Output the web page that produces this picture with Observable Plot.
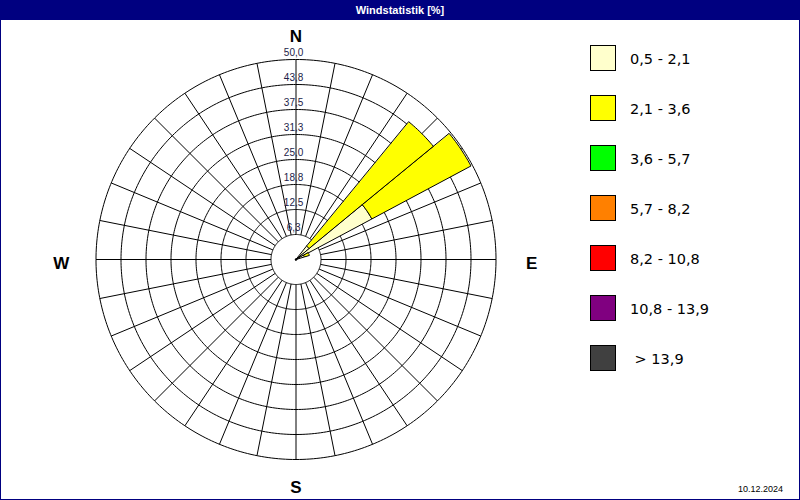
<!DOCTYPE html>
<html>
<head>
<meta charset="utf-8">
<script src="https://cdn.jsdelivr.net/npm/d3@7"></script>
<script src="https://cdn.jsdelivr.net/npm/@observablehq/plot@0.6"></script>
<style>
  html, body { margin: 0; padding: 0; background: #fff; }
  #frame { position: relative; width: 800px; height: 500px; overflow: hidden; background: #fff; }
  #titlebar { position: absolute; left: 0; top: 0; width: 800px; height: 20px; background: #000080; color: #fff;
    font: bold 11px "Liberation Sans", Arial, sans-serif; text-align: center; line-height: 20px; }
  #border { position: absolute; left: 0; top: 0; width: 800px; height: 500px; box-sizing: border-box;
    border: 1px solid #000080; pointer-events: none; }
  #chart { position: absolute; left: 0; top: 20px; }
  #legend { position: absolute; left: 590px; top: 45px; font: 14.5px "DejaVu Sans", Verdana, sans-serif; color: #000; }
  .row { position: relative; height: 50px; }
  .sw { position: absolute; left: 0; top: 0; width: 24px; height: 24px; border: 1px solid #000; }
  .lb { position: absolute; left: 40px; top: 1px; line-height: 26px; white-space: pre; }
  #date { position: absolute; left: 738px; top: 484px; font: 9px "Liberation Sans", Arial, sans-serif; color: #000; }
</style>
</head>
<body>
<div id="frame">
  <div id="titlebar">Windstatistik [%]</div>
  <div id="chart"></div>
  <div id="legend"></div>
  <div id="date">10.12.2024</div>
  <div id="border"></div>
</div>
<script>
// ---- data ----
const speedClasses = ["0,5 - 2,1", "2,1 - 3,6", "3,6 - 5,7", "5,7 - 8,2", "8,2 - 10,8", "10,8 - 13,9", " > 13,9"];
const classColors = ["#FFFFCC", "#FFFF00", "#00FF00", "#FF8000", "#FF0000", "#800080", "#404040"];
const sectorDirections = [45, 56.25, 67.5];      // degrees from north, 32 sectors
const share_05_21 = [4.3, 21.5, 2.2];             // % per sector, class 0,5 - 2,1
const share_21_36 = [40.2, 28.1, 1.3];            // % per sector, class 2,1 - 3,6
const ringValues = [6.25, 12.5, 18.75, 25, 31.25, 37.5, 43.75, 50];
const ringLabels = ["6,3", "12,5", "18,8", "25,0", "31,3", "37,5", "43,8", "50,0"];
const compassLabels = ["N", "E", "S", "W"];
const compassAngles = [0, 90, 180, 270];
const sectorCount = 32;

// ---- geometry helpers (derived from data) ----
const rad = d => d * Math.PI / 180;
const px = (r, a) => r * Math.sin(rad(a));
const py = (r, a) => r * Math.cos(rad(a));
const W = 800, H = 480, cx = 295.5, cy = 239, k = 4; // px per %
const holeR = ringValues[0];
const outerR = ringValues[ringValues.length - 1];
const step = 360 / sectorCount;

// rings
const ringPts = [];
ringValues.forEach((v, i) => {
  for (let a = 0; a < 360; a += 1) ringPts.push({ring: i, x: px(v, a), y: py(v, a)});
});
// spokes
const spokePts = [];
for (let i = 0; i < sectorCount; i++) {
  const a = i * step;
  spokePts.push({x1: px(holeR, a), y1: py(holeR, a), x2: px(outerR, a), y2: py(outerR, a)});
}
// wedges (stacked by class)
const bands = [share_05_21, share_21_36];
const wedgePts = [];
sectorDirections.forEach((dir, s) => {
  let r0 = 0;
  bands.forEach((vals, b) => {
    const r1 = r0 + vals[s];
    if (vals[s] > 0) {
      const id = s + "-" + b;
      const a0 = dir - step / 2, a1 = dir + step / 2;
      const n = 12;
      for (let j = 0; j <= n; j++) { const a = a0 + (a1 - a0) * j / n; wedgePts.push({id, cls: speedClasses[b], x: px(r1, a), y: py(r1, a)}); }
      if (r0 === 0) wedgePts.push({id, cls: speedClasses[b], x: 0, y: 0});
      else for (let j = n; j >= 0; j--) { const a = a0 + (a1 - a0) * j / n; wedgePts.push({id, cls: speedClasses[b], x: px(r0, a), y: py(r0, a)}); }
    }
    r0 = r1;
  });
});
// ring labels
const ringLabelData = ringValues.map((v, i) => ({x: -0.6, y: v + 1.65, t: ringLabels[i]}));
// compass labels
const compassR = {N: 55.8, E: 58.9, S: 57.1, W: 58.7};
const compassData = compassLabels.map((t, i) => ({
  t, x: px(compassR[t], compassAngles[i]), y: py(compassR[t], compassAngles[i]) + (t === "E" || t === "W" ? -1.1 : 0)
}));

const plot = Plot.plot({
  width: W, height: H, margin: 0,
  style: {background: "transparent", overflow: "visible"},
  x: {domain: [-cx / k, (W - cx) / k], range: [0, W], axis: null},
  y: {domain: [-(H - cy) / k, cy / k], range: [H, 0], axis: null},
  color: {domain: speedClasses, range: classColors},
  marks: [
    Plot.line(ringPts, {x: "x", y: "y", z: "ring", stroke: "black", strokeWidth: 1, curve: "linear-closed"}),
    Plot.link(spokePts, {x1: "x1", y1: "y1", x2: "x2", y2: "y2", stroke: "black", strokeWidth: 1}),
    Plot.line(wedgePts, {x: "x", y: "y", z: "id", fill: "cls", stroke: "black", strokeWidth: 1, curve: "linear-closed"}),
    Plot.dot([{x: 0, y: 0}], {x: "x", y: "y", r: 1.2, fill: "black"}),
    Plot.text(ringLabelData, {x: "x", y: "y", text: "t", fontSize: 10, fill: "#1c1c48", fontFamily: "Liberation Sans, Arial, sans-serif"}),
    Plot.text(compassData, {x: "x", y: "y", text: "t", fontSize: 17, fontWeight: "bold", fill: "#000", fontFamily: "Liberation Sans, Arial, sans-serif"})
  ]
});
document.getElementById("chart").appendChild(plot);

// legend
const lg = document.getElementById("legend");
speedClasses.forEach((c, i) => {
  const row = document.createElement("div"); row.className = "row";
  const sw = document.createElement("div"); sw.className = "sw"; sw.style.background = classColors[i];
  const lb = document.createElement("div"); lb.className = "lb"; lb.textContent = c;
  row.appendChild(sw); row.appendChild(lb); lg.appendChild(row);
});
</script>
</body>
</html>
